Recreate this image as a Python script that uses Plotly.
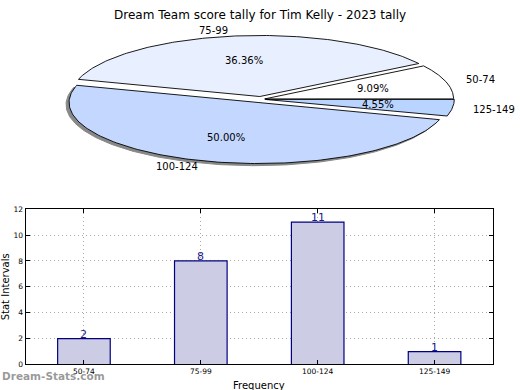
import numpy as np
import plotly.graph_objects as go

# ---------------- data ----------------
title = "Dream Team score tally for Tim Kelly - 2023 tally"
categories = ["50-74", "75-99", "100-124", "125-149"]
counts = [2, 8, 11, 1]
pie_colors = ["#ffffff", "#e8efff", "#c4d7ff", "#b8d4ff"]
explode = [0.02, 0.045, 0.055, 0.023]
bar_fill = "#ccccE5"
bar_edge = "#000080"
y_ticks = [0, 2, 4, 6, 8, 10, 12]

W, H = 520, 390
FONT = "DejaVu Sans"

fig = go.Figure()

# ---------------- pie (elliptical, matplotlib-like) ----------------
total = float(sum(counts))
fracs = [c / total for c in counts]
start = 0.0
wedges = []
for cat, f, col, ex in zip(categories, fracs, pie_colors, explode):
    a0 = start
    a1 = start + 360.0 * f
    mid = np.deg2rad((a0 + a1) / 2)
    dx, dy = ex * np.cos(mid), ex * np.sin(mid)
    wedges.append((cat, f, col, a0, a1, mid, dx, dy))
    start = a1

def wedge_xy(a0, a1, dx, dy, ox=0.0, oy=0.0):
    th = np.deg2rad(np.linspace(a0, a1, 160))
    xs = np.concatenate([[0], np.cos(th), [0]]) + dx + ox
    ys = np.concatenate([[0], np.sin(th), [0]]) + dy + oy
    return xs, ys

# shadow for the largest slice
for cat, f, col, a0, a1, mid, dx, dy in wedges:
    if cat == "100-124":
        xs, ys = wedge_xy(a0, a1, dx, dy, ox=-0.016, oy=-0.035)
        fig.add_trace(go.Scatter(x=xs, y=ys, mode="lines", fill="toself",
                                 fillcolor="#888888", line=dict(color="#888888", width=1),
                                 hoverinfo="skip", showlegend=False,
                                 xaxis="x2", yaxis="y2"))

for cat, f, col, a0, a1, mid, dx, dy in wedges:
    xs, ys = wedge_xy(a0, a1, dx, dy)
    fig.add_trace(go.Scatter(x=xs, y=ys, mode="lines", fill="toself",
                             fillcolor=col, line=dict(color="black", width=0.9),
                             hoverinfo="skip", showlegend=False,
                             xaxis="x2", yaxis="y2"))

annotations = []
for cat, f, col, a0, a1, mid, dx, dy in wedges:
    annotations.append(dict(x=0.6 * np.cos(mid) + dx, y=0.6 * np.sin(mid) + dy,
                            xref="x2", yref="y2", text="%.2f%%" % (f * 100),
                            showarrow=False, font=dict(family=FONT, size=10, color="black"),
                            xanchor="center", yanchor="middle"))
    lx, ly = 1.1 * np.cos(mid) + dx, 1.1 * np.sin(mid) + dy
    annotations.append(dict(x=lx, y=ly, xref="x2", yref="y2", text=cat,
                            showarrow=False, font=dict(family=FONT, size=10, color="black"),
                            xanchor="left" if lx > 0 else "right", yanchor="middle"))

# pixel geometry of the pie area
cx, cy, rx, ry = 261.0, 97.5, 189.0, 62.5
pie_top, pie_bot = 0.0, 200.0
xr2 = [-cx / rx, (W - cx) / rx]
yr2 = [-(pie_bot - cy) / ry, (cy - pie_top) / ry]

# ---------------- bar chart ----------------
xpos = list(range(len(categories)))
fig.add_trace(go.Bar(x=xpos, y=counts, width=0.45,
                     marker=dict(color=bar_fill, line=dict(color=bar_edge, width=1.2)),
                     hoverinfo="skip", showlegend=False, xaxis="x", yaxis="y"))
for xp, c in zip(xpos, counts):
    annotations.append(dict(x=xp, y=c, xref="x", yref="y", text=str(c),
                            showarrow=False, yanchor="bottom", yshift=-4,
                            font=dict(family=FONT, size=11, color="#1a1a8c")))

annotations.append(dict(x=5 / W, y=1 - 290 / H, xref="paper", yref="paper",
                        text="Stat Intervals", textangle=-90, showarrow=False,
                        font=dict(family=FONT, size=10, color="black"),
                        xanchor="center", yanchor="middle"))
annotations.append(dict(x=259 / W, y=1 - 383 / H, xref="paper", yref="paper",
                        text="Frequency", showarrow=False,
                        font=dict(family=FONT, size=10, color="black"),
                        xanchor="center", yanchor="top"))
annotations.append(dict(x=0, y=1 - 381 / H, xref="paper", yref="paper",
                        text="<b>Dream-Stats.com</b>", showarrow=False,
                        font=dict(family=FONT, size=10.5, color="rgba(120,120,120,0.75)"),
                        xanchor="left", yanchor="middle"))
annotations.append(dict(x=0.5, y=1 - 11 / H, xref="paper", yref="paper",
                        text=title, showarrow=False,
                        font=dict(family=FONT, size=12, color="black"),
                        xanchor="center", yanchor="middle"))

bx0, bx1, by0, by1 = 25.5, 493.0, 210.0, 369.0
grid_dash = "1px,3px"

fig.update_layout(
    width=W, height=H, margin=dict(l=0, r=0, t=0, b=0),
    paper_bgcolor="white", plot_bgcolor="white",
    font=dict(family=FONT, size=8, color="black"),
    annotations=annotations,
    xaxis=dict(domain=[bx0 / W, bx1 / W], range=[-0.5, 3.5],
               tickvals=xpos, ticktext=categories, tickfont=dict(size=7.5),
               showgrid=True, gridcolor="#a8a8a8", griddash=grid_dash, gridwidth=1,
               showline=True, linecolor="black", linewidth=1, mirror="ticks",
               ticks="inside", ticklen=4, tickcolor="black", zeroline=False, fixedrange=True),
    yaxis=dict(domain=[1 - by1 / H, 1 - by0 / H], range=[0, 12],
               tickvals=y_ticks, tickfont=dict(size=7.5),
               showgrid=True, gridcolor="#a8a8a8", griddash=grid_dash, gridwidth=1,
               showline=True, linecolor="black", linewidth=1, mirror="ticks",
               ticks="inside", ticklen=4, tickcolor="black", zeroline=False, fixedrange=True),
    xaxis2=dict(domain=[0, 1], range=xr2, visible=False, fixedrange=True),
    yaxis2=dict(domain=[1 - pie_bot / H, 1 - pie_top / H], range=yr2, visible=False,
                fixedrange=True),
)

fig.write_html("out.html", config={"displayModeBar": False},
               post_script="document.body.style.margin='0';document.body.style.padding='0';")
